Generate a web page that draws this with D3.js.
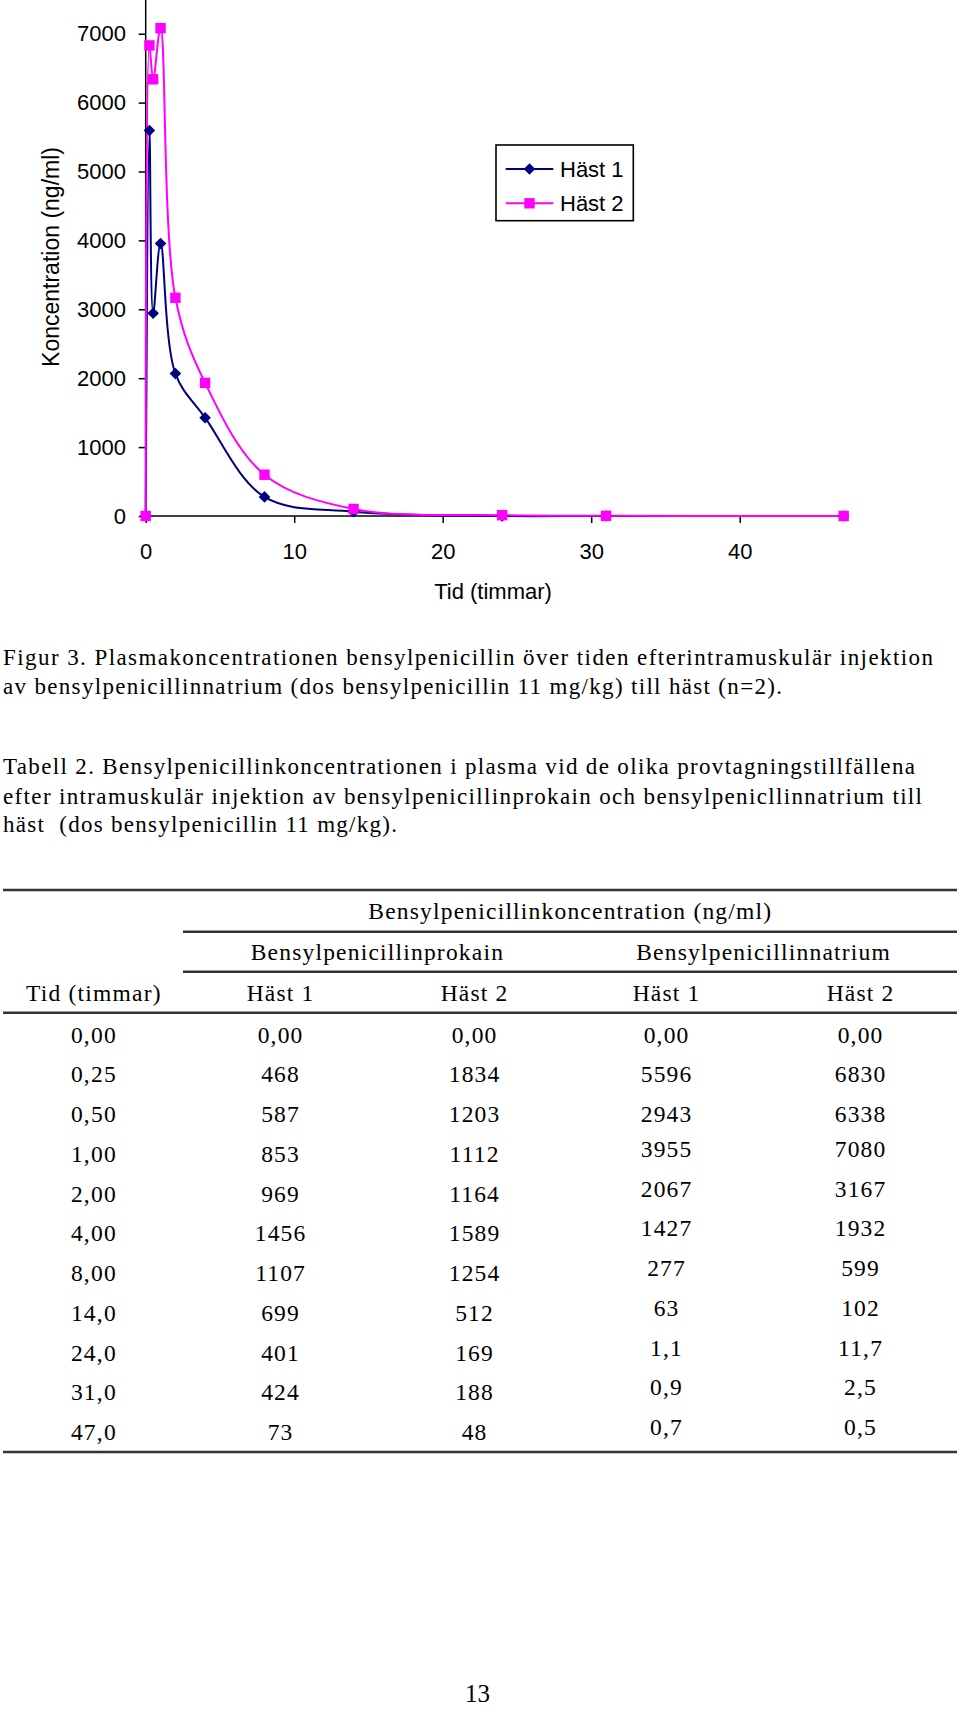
<!DOCTYPE html>
<html>
<head>
<meta charset="utf-8">
<script src="https://cdn.jsdelivr.net/npm/d3@7"></script>
<style>
  html, body { margin: 0; padding: 0; background: #ffffff; }
  svg { display: block; }
  .serif { font-family: "Liberation Serif", "Times New Roman", serif; fill: #000; }
  .sans { font-family: "Liberation Sans", Arial, sans-serif; fill: #000; }
</style>
</head>
<body>
<svg id="page" width="960" height="1709"></svg>
<script>
// ---------------- DATA ----------------
const timeHours = [0, 0.25, 0.5, 1, 2, 4, 8, 14, 24, 31, 47];
const natriumHast1 = [0, 5596, 2943, 3955, 2067, 1427, 277, 63, 1.1, 0.9, 0.7];
const natriumHast2 = [0, 6830, 6338, 7080, 3167, 1932, 599, 102, 11.7, 2.5, 0.5];
const seriesNames = ["Häst 1", "Häst 2"];
const yTickValues = [0, 1000, 2000, 3000, 4000, 5000, 6000, 7000];
const xTickValues = [0, 10, 20, 30, 40];
const xAxisTitle = "Tid (timmar)";
const yAxisTitle = "Koncentration (ng/ml)";

const captionLines = [
  "Figur 3. Plasmakoncentrationen bensylpenicillin över tiden efterintramuskulär injektion",
  "av bensylpenicillinnatrium (dos bensylpenicillin 11 mg/kg) till häst (n=2)."
];
const tableTitleLines = [
  "Tabell 2. Bensylpenicillinkoncentrationen i plasma vid de olika provtagningstillfällena",
  "efter intramuskulär injektion av bensylpenicillinprokain och bensylpenicllinnatrium till",
  "häst  (dos bensylpenicillin 11 mg/kg)."
];
const tableSuperHeader = "Bensylpenicillinkoncentration (ng/ml)";
const tableGroupHeaders = ["Bensylpenicillinprokain", "Bensylpenicillinnatrium"];
const tableColumnHeaders = ["Tid (timmar)", "Häst 1", "Häst 2", "Häst 1", "Häst 2"];
const tableTimeLabels = ["0,00", "0,25", "0,50", "1,00", "2,00", "4,00", "8,00", "14,0", "24,0", "31,0", "47,0"];
const prokainHast1Labels = ["0,00", "468", "587", "853", "969", "1456", "1107", "699", "401", "424", "73"];
const prokainHast2Labels = ["0,00", "1834", "1203", "1112", "1164", "1589", "1254", "512", "169", "188", "48"];
const natriumHast1Labels = ["0,00", "5596", "2943", "3955", "2067", "1427", "277", "63", "1,1", "0,9", "0,7"];
const natriumHast2Labels = ["0,00", "6830", "6338", "7080", "3167", "1932", "599", "102", "11,7", "2,5", "0,5"];
const pageNumber = "13";

// ---------------- LAYOUT ----------------
const svg = d3.select("#page");
const colors = ["#000080", "#FF00FF"];

const x = d3.scaleLinear().domain([0, 40]).range([145.7, 739.7]);
const y = d3.scaleLinear().domain([0, 7000]).range([516, 33.7]);

const chart = svg.append("g");

// Axes
const yAxis = d3.axisLeft(y).tickValues(yTickValues).tickFormat(d3.format("d"))
  .tickSize(7).tickPadding(12.7).tickSizeOuter(0);
const gy = chart.append("g").attr("transform", `translate(${x(0)},0)`).call(yAxis);
gy.select(".domain").remove();
gy.selectAll(".tick line").attr("stroke", "#000").attr("stroke-width", 1.5);
gy.selectAll(".tick text").attr("class", "sans").style("font-size", "22px").attr("fill", "#000");

const xAxis = d3.axisBottom(x).tickValues(xTickValues).tickFormat(d3.format("d"))
  .tickSize(7).tickPadding(20).tickSizeOuter(0);
const gx = chart.append("g").attr("transform", `translate(0,${y(0)})`).call(xAxis);
gx.select(".domain").remove();
gx.selectAll(".tick line").attr("stroke", "#000").attr("stroke-width", 1.5);
gx.selectAll(".tick text").attr("class", "sans").style("font-size", "22px").attr("fill", "#000");

// axis lines
chart.append("line").attr("x1", x(0)).attr("x2", x(0)).attr("y1", 0).attr("y2", y(0))
  .attr("stroke", "#000").attr("stroke-width", 1.5);
chart.append("line").attr("x1", x(0)).attr("x2", x(47.2)).attr("y1", y(0)).attr("y2", y(0))
  .attr("stroke", "#000").attr("stroke-width", 1.5);

// axis titles
chart.append("text").attr("class", "sans").attr("x", 493).attr("y", 598.5)
  .attr("text-anchor", "middle").style("font-size", "22px").text(xAxisTitle);
chart.append("text").attr("class", "sans")
  .attr("transform", "translate(59,257) rotate(-90)")
  .attr("text-anchor", "middle").style("font-size", "23px").text(yAxisTitle);

// series
const seriesData = [natriumHast1, natriumHast2].map(vals => timeHours.map((t, i) => ({ t, v: vals[i] })));
const line = d3.line().x(d => x(d.t)).y(d => y(d.v)).curve(d3.curveCatmullRom.alpha(0.5));

const diamondPath = "M0,-5.8L5.8,0L0,5.8L-5.8,0Z";
function drawMarker(g, idx) {
  if (idx === 0) {
    g.append("path").attr("d", diamondPath).attr("fill", colors[0]);
  } else {
    g.append("rect").attr("x", -5.2).attr("y", -5.2).attr("width", 10.4).attr("height", 10.4).attr("fill", colors[1]);
  }
}

seriesData.forEach((data, si) => {
  chart.append("path").datum(data).attr("d", line)
    .attr("fill", "none").attr("stroke", colors[si]).attr("stroke-width", 2);
});
seriesData.forEach((data, si) => {
  data.forEach(d => {
    const g = chart.append("g").attr("transform", `translate(${x(d.t)},${y(d.v)})`);
    drawMarker(g, si);
  });
});

// legend
const legend = chart.append("g");
legend.append("rect").attr("x", 496).attr("y", 145).attr("width", 137.3).attr("height", 75.7)
  .attr("fill", "#fff").attr("stroke", "#000").attr("stroke-width", 1.6);
[169, 203.3].forEach((ly, i) => {
  legend.append("line").attr("x1", 505.7).attr("x2", 553.3).attr("y1", ly).attr("y2", ly)
    .attr("stroke", colors[i]).attr("stroke-width", 2);
  const g = legend.append("g").attr("transform", `translate(529.5,${ly})`);
  drawMarker(g, i);
  legend.append("text").attr("class", "sans").attr("x", 560).attr("y", ly + 7.5)
    .style("font-size", "22px").text(seriesNames[i]);
});

// ---------------- TEXT ----------------
const captionSpecs = [
  { y: 665, w: 930 },
  { y: 693.5, w: 779 }
];
captionLines.forEach((t, i) => {
  svg.append("text").attr("class", "serif").attr("x", 3).attr("y", captionSpecs[i].y)
    .style("font-size", "23px").style("white-space", "pre")
    .attr("textLength", captionSpecs[i].w).attr("lengthAdjust", "spacing").text(t);
});
const titleSpecs = [
  { y: 773.5, w: 912 },
  { y: 803.5, w: 919 },
  { y: 832, w: 394 }
];
tableTitleLines.forEach((t, i) => {
  svg.append("text").attr("class", "serif").attr("x", 3).attr("y", titleSpecs[i].y)
    .style("font-size", "23px").style("white-space", "pre")
    .attr("textLength", titleSpecs[i].w).attr("lengthAdjust", "spacing").text(t);
});

// ---------------- TABLE ----------------
const table = svg.append("g");
function rule(x1, x2, yy, w) {
  table.append("line").attr("x1", x1).attr("x2", x2).attr("y1", yy).attr("y2", yy)
    .attr("stroke", "#333").attr("stroke-width", w);
}
rule(3, 957, 890, 2.6);
rule(183, 957, 931.7, 2.4);
rule(183, 957, 971.7, 2.4);
rule(3, 957, 1012.7, 2.4);
rule(3, 957, 1452, 2.6);

function cell(txt, cx, yy) {
  table.append("text").attr("class", "serif").attr("x", cx + 0.6).attr("y", yy)
    .attr("text-anchor", "middle").style("font-size", "23.5px").style("letter-spacing", "1.2px")
    .text(txt);
}
cell(tableSuperHeader, 569.7, 919.3);
cell(tableGroupHeaders[0], 376.8, 960);
cell(tableGroupHeaders[1], 763, 960);
const colCenters = [93.3, 280, 474, 666, 860];
tableColumnHeaders.forEach((h, i) => cell(h, colCenters[i], 1000.7));

const tableColumns = [tableTimeLabels, prokainHast1Labels, prokainHast2Labels, natriumHast1Labels, natriumHast2Labels];
tableTimeLabels.forEach((_, r) => {
  const base = 1042.7 + r * 39.73;
  tableColumns.forEach((col, c) => {
    const shift = (c >= 3 && r >= 3) ? -5 : 0;
    cell(col[r], colCenters[c], base + shift);
  });
});

// page number
svg.append("text").attr("class", "serif").attr("x", 477.5).attr("y", 1702)
  .attr("text-anchor", "middle").style("font-size", "25px").text(pageNumber);
</script>
</body>
</html>
